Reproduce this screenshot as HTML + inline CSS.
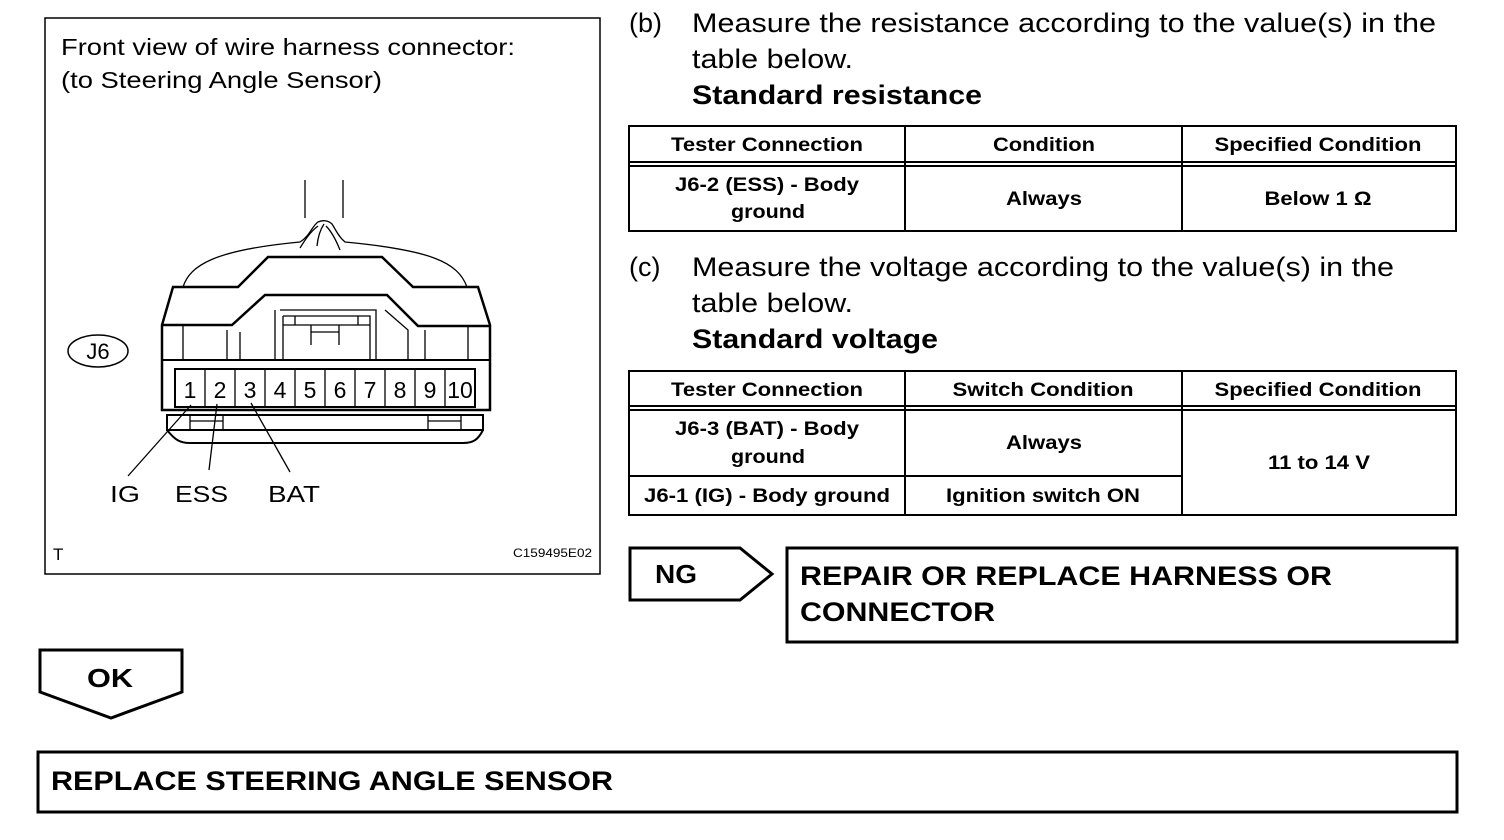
<!DOCTYPE html>
<html><head><meta charset="utf-8"><style>
html,body{margin:0;padding:0;background:#fff}
svg{display:block}
text{font-family:"Liberation Sans",Arial,sans-serif;fill:#000}
.b{font-weight:bold}
</style></head><body>
<svg width="1504" height="840" viewBox="0 0 1504 840" xmlns="http://www.w3.org/2000/svg">
<g fill="none" stroke="#000">
<rect x="45" y="18" width="555" height="556" stroke-width="1.5"/>
</g>
<text x="61" y="55" font-size="23" textLength="454" lengthAdjust="spacingAndGlyphs">Front view of wire harness connector:</text>
<text x="61" y="88" font-size="23" textLength="321" lengthAdjust="spacingAndGlyphs">(to Steering Angle Sensor)</text>
<text x="53" y="560" font-size="17">T</text>
<text x="513" y="557" font-size="12" textLength="79" lengthAdjust="spacingAndGlyphs">C159495E02</text>
<ellipse cx="98" cy="351" rx="30" ry="16" fill="none" stroke="#000" stroke-width="1.5"/>
<text x="98" y="359" font-size="22" text-anchor="middle">J6</text>
<g fill="none" stroke="#000" stroke-width="1.3">
<path d="M305 180 V218 M343 180 V218"/>
<path d="M183 287 C190 265 215 250 300 242 C310 236 312 226 318 222 C322 220 328 220 332 224 C336 230 338 236 345 242 C430 250 458 262 467 287"/>
<path d="M300 248 C305 240 310 232 318 226 M317 246 C318 236 320 230 324 224 M340 250 C336 240 332 232 326 226"/>
</g>
<g fill="none" stroke="#000" stroke-width="2.5" stroke-linejoin="miter">
<path d="M173 287 H238 L268 257 H382 L413 287 H478 L490 325 V410 H162 V325 Z"/>
<path d="M162 325 H232 L265 295 H387 L418 326 H490"/>
<path d="M167 415 H483 V430 H167 Z" stroke-width="2"/>
<path d="M167 430 C175 440 180 443 190 443 H463 C473 443 478 440 483 430" stroke-width="2"/>
<rect x="175" y="369" width="300" height="38" stroke-width="2"/>
</g>
<g fill="none" stroke="#000" stroke-width="1.3">
<path d="M183 325 V360 M227 330 V360 M240 332 V360 M275 310 V360 M280 310 H376 V360 M283 316 H370 V360 M283 316 V360 M385 310 L408 330 V360 M425 330 V360 M468 325 V360"/>
<path d="M162 360 H490" stroke-width="2"/>
<path d="M283 325 H370 M295 316 V325 M358 316 V325 M311 332 H339 M311 325 V345 M339 325 V345"/>
<path d="M190 415 V430 M223 415 V430 M428 415 V430 M461 415 V430 M190 421 H223 M428 421 H461"/>
<path d="M205 369 V407 M235 369 V407 M265 369 V407 M295 369 V407 M325 369 V407 M355 369 V407 M385 369 V407 M415 369 V407 M445 369 V407"/>
<path d="M191 405 L128 476 M217 404 L209 470 M251 403 L290 472"/>
</g>
<g font-size="23" text-anchor="middle">
<text x="190" y="398">1</text><text x="220" y="398">2</text><text x="250" y="398">3</text><text x="280" y="398">4</text><text x="310" y="398">5</text><text x="340" y="398">6</text><text x="370" y="398">7</text><text x="400" y="398">8</text><text x="430" y="398">9</text><text x="460" y="398">10</text>
</g>
<text x="110" y="502" font-size="23" textLength="30" lengthAdjust="spacingAndGlyphs">IG</text>
<text x="175" y="502" font-size="23" textLength="53" lengthAdjust="spacingAndGlyphs">ESS</text>
<text x="268" y="502" font-size="23" textLength="52" lengthAdjust="spacingAndGlyphs">BAT</text>

<text x="629" y="32" font-size="27">(b)</text>
<text x="692" y="32" font-size="27" textLength="744" lengthAdjust="spacingAndGlyphs">Measure the resistance according to the value(s) in the</text>
<text x="692" y="68" font-size="27" textLength="161" lengthAdjust="spacingAndGlyphs">table below.</text>
<text x="692" y="104" font-size="27" class="b" textLength="290" lengthAdjust="spacingAndGlyphs">Standard resistance</text>
<g fill="none" stroke="#000" stroke-width="2">
<rect x="629" y="126" width="827" height="105"/>
<path d="M629 162 H1456 M629 166 H1456 M905 126 V231 M1182 126 V231"/>
</g>
<g font-size="19" class="b" text-anchor="middle" lengthAdjust="spacingAndGlyphs">
<text x="767" y="151" textLength="192" lengthAdjust="spacingAndGlyphs">Tester Connection</text><text x="1044" y="151" textLength="102" lengthAdjust="spacingAndGlyphs">Condition</text><text x="1318" y="151" textLength="207" lengthAdjust="spacingAndGlyphs">Specified Condition</text>
<text x="767" y="191" textLength="184" lengthAdjust="spacingAndGlyphs">J6-2 (ESS) - Body</text><text x="768" y="218" textLength="74" lengthAdjust="spacingAndGlyphs">ground</text>
<text x="1044" y="205" textLength="76" lengthAdjust="spacingAndGlyphs">Always</text><text x="1318" y="205" textLength="107" lengthAdjust="spacingAndGlyphs">Below 1 Ω</text>
</g>
<text x="629" y="276" font-size="27">(c)</text>
<text x="692" y="276" font-size="27" textLength="702" lengthAdjust="spacingAndGlyphs">Measure the voltage according to the value(s) in the</text>
<text x="692" y="312" font-size="27" textLength="161" lengthAdjust="spacingAndGlyphs">table below.</text>
<text x="692" y="348" font-size="27" class="b" textLength="246" lengthAdjust="spacingAndGlyphs">Standard voltage</text>
<g fill="none" stroke="#000" stroke-width="2">
<rect x="629" y="371" width="827" height="144"/>
<path d="M629 406 H1456 M629 410 H1456 M905 371 V515 M1182 371 V515 M629 476 H1182"/>
</g>
<g font-size="19" class="b" text-anchor="middle">
<text x="767" y="396" textLength="192" lengthAdjust="spacingAndGlyphs">Tester Connection</text><text x="1043" y="396" textLength="181" lengthAdjust="spacingAndGlyphs">Switch Condition</text><text x="1318" y="396" textLength="207" lengthAdjust="spacingAndGlyphs">Specified Condition</text>
<text x="767" y="435" textLength="184" lengthAdjust="spacingAndGlyphs">J6-3 (BAT) - Body</text><text x="768" y="463" textLength="74" lengthAdjust="spacingAndGlyphs">ground</text>
<text x="1044" y="449" textLength="76" lengthAdjust="spacingAndGlyphs">Always</text><text x="1319" y="469" textLength="102" lengthAdjust="spacingAndGlyphs">11 to 14 V</text>
<text x="767" y="502" textLength="246" lengthAdjust="spacingAndGlyphs">J6-1 (IG) - Body ground</text><text x="1043" y="502" textLength="194" lengthAdjust="spacingAndGlyphs">Ignition switch ON</text>
</g>
<g fill="none" stroke="#000" stroke-width="3">
<path d="M630 548 H740 L772 574 L740 600 H630 Z"/>
<rect x="787" y="548" width="670" height="94"/>
<path d="M40 650 H182 V692 L111 718 L40 692 Z"/>
<rect x="38" y="752" width="1419" height="60"/>
</g>
<text x="655" y="583" font-size="26" class="b" textLength="42" lengthAdjust="spacingAndGlyphs">NG</text>
<text x="800" y="585" font-size="27" class="b" textLength="532" lengthAdjust="spacingAndGlyphs">REPAIR OR REPLACE HARNESS OR</text>
<text x="800" y="621" font-size="27" class="b" textLength="195" lengthAdjust="spacingAndGlyphs">CONNECTOR</text>
<text x="87" y="687" font-size="26" class="b" textLength="46" lengthAdjust="spacingAndGlyphs">OK</text>
<text x="51" y="790" font-size="27" class="b" textLength="562" lengthAdjust="spacingAndGlyphs">REPLACE STEERING ANGLE SENSOR</text>
</svg>
</body></html>
